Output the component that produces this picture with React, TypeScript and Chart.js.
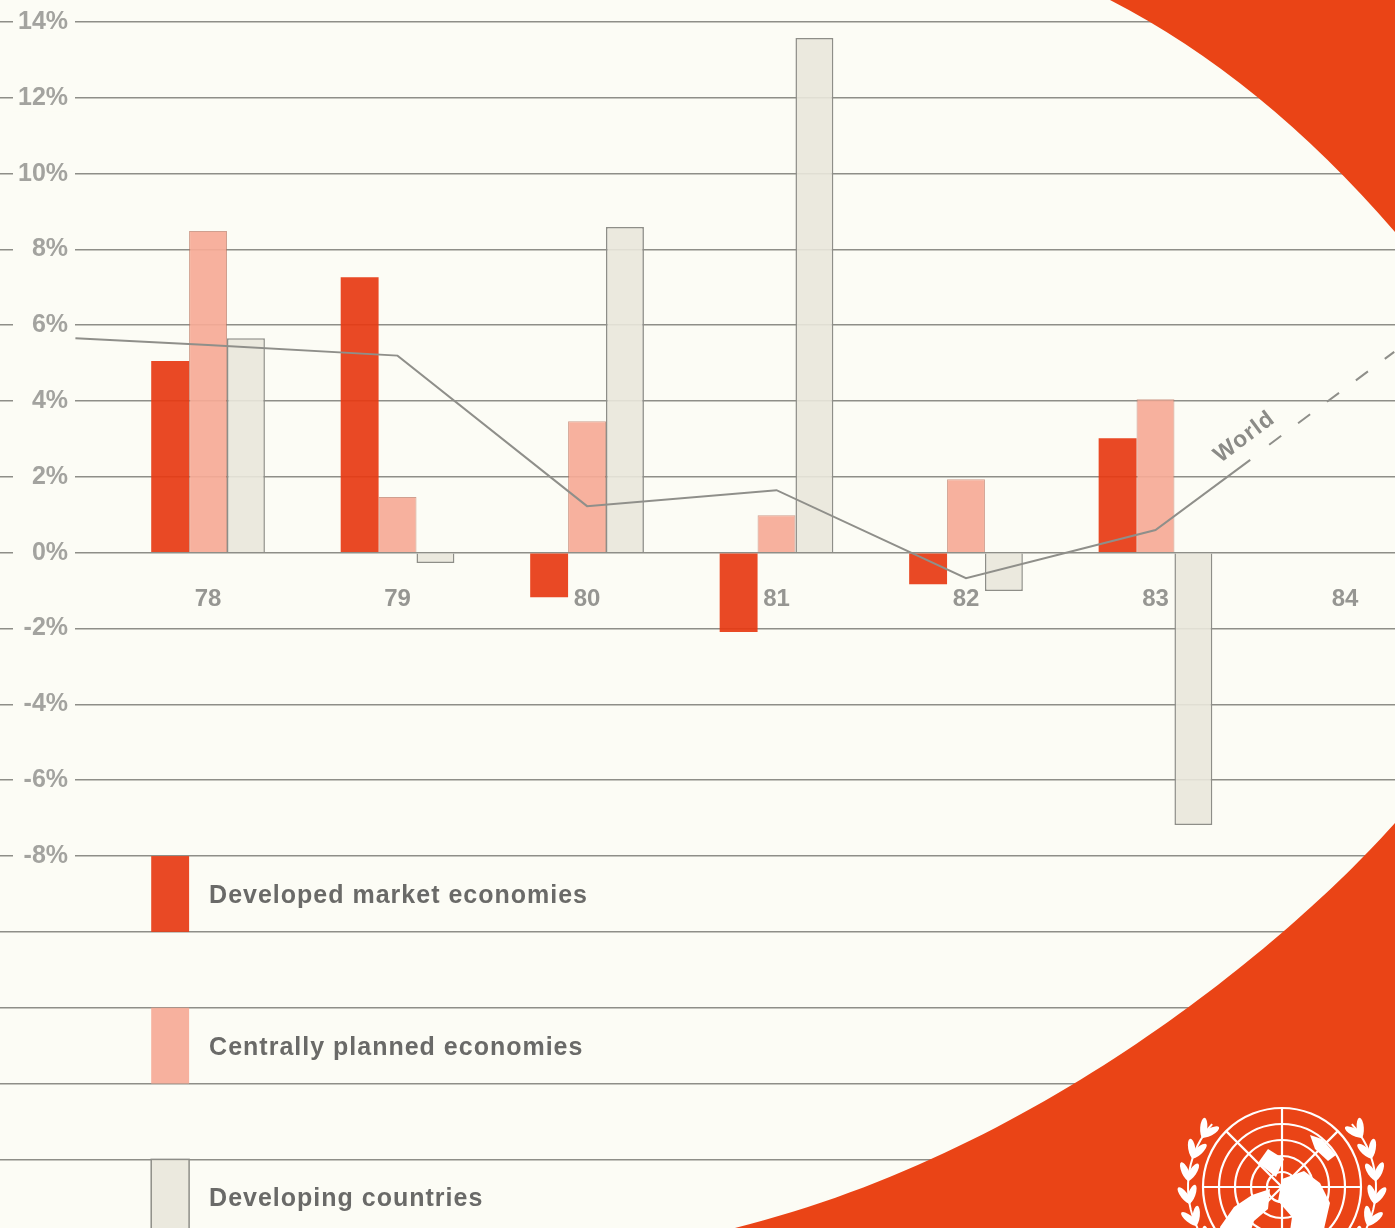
import React, { useEffect, useRef } from 'react';
import { Chart, registerables } from 'chart.js';

Chart.register(...registerables);

// ---- data ----
const YEARS = [78, 79, 80, 81, 82, 83, 84];
const YEAR_LABELS = ['78', '79', '80', '81', '82', '83', '84'];
const BAR_YEARS = [78, 79, 80, 81, 82, 83];
const DEVELOPED = [5.06, 7.27, -1.17, -2.09, -0.83, 3.02];
const PLANNED = [8.49, 1.47, 3.47, 0.99, 1.94, 4.05];
const DEVELOPING = [5.66, -0.27, 8.59, 13.58, -1.01, -7.18];
const WORLD_X = [77.3, 78, 79, 80, 81, 82, 83, 83.5];
const WORLD = [5.66, 5.48, 5.2, 1.23, 1.65, -0.67, 0.6, 2.45];
const WORLD_PROJ_X = [83.6, 84.26];
const WORLD_PROJ = [2.85, 5.3];
const SERIES_NAMES = ['Developed market economies', 'Centrally planned economies', 'Developing countries'];
const WORLD_NAME = 'World';

// ---- styling ----
const CREAM = '#fcfcf5';
const RED = '#ea4416';
const GRID = '#8e8e88';
const TEXT_GRAY = '#a3a39f';
const LEGEND_GRAY = '#6a6a68';
const COL_DEV = 'rgba(231,58,18,0.92)';
const COL_PLAN = 'rgba(246,170,150,0.92)';
const COL_DEVING = 'rgba(233,231,220,0.9)';
const FONT = "'Liberation Sans', Arial, Helvetica, sans-serif";

const pts = (xs: number[], ys: number[]) => ys.map((y, i) => ({ x: xs[i], y }));

const decorPlugin = {
  id: 'decor',
  beforeDraw(chart: any) {
    const { ctx, width, height } = chart;
    ctx.save();
    ctx.fillStyle = CREAM;
    ctx.fillRect(0, 0, width, height);
    ctx.restore();
  },
  beforeDatasetsDraw(chart: any) {
    const { ctx } = chart;
    const ys = chart.scales.y;
    ctx.save();
    ctx.fillStyle = CREAM;
    ys.ticks.forEach((t: any) => {
      if (t.value >= -8) {
        const py = ys.getPixelForValue(t.value);
        ctx.fillRect(13, py - 14, 62, 28);
      }
    });
    ctx.restore();
  },
  afterDraw(chart: any) {
    const { ctx, width: W, height: H } = chart;
    const xs = chart.scales.x;
    const ys = chart.scales.y;

    // "World" label along the line
    ctx.save();
    ctx.translate(xs.getPixelForValue(83.47), ys.getPixelForValue(3.05));
    ctx.rotate((-37 * Math.PI) / 180);
    ctx.font = `bold 23px ${FONT}`;
    ctx.fillStyle = '#8b8b87';
    ctx.textAlign = 'center';
    ctx.textBaseline = 'middle';
    (ctx as any).letterSpacing = '1px';
    ctx.fillText(WORLD_NAME, 0, 0);
    ctx.restore();

    // legend rows
    const colors = [COL_DEV, COL_PLAN, COL_DEVING];
    ctx.save();
    SERIES_NAMES.forEach((name, k) => {
      const bar: any = chart.getDatasetMeta(2).data[0];
      const bw = bar.width;
      const left = bar.x - bw / 2;
      const topV = -8 - 4 * k;
      const yTop = ys.getPixelForValue(topV);
      const yBot = Math.min(ys.getPixelForValue(topV - 2), H + 2);
      ctx.fillStyle = colors[k];
      ctx.fillRect(left, yTop, bw, yBot - yTop);
      if (k === 2) {
        ctx.strokeStyle = GRID;
        ctx.lineWidth = 1.5;
        ctx.strokeRect(left, yTop, bw, yBot - yTop + 10);
      }
      ctx.font = `bold 25px ${FONT}`;
      (ctx as any).letterSpacing = '1px';
      ctx.fillStyle = LEGEND_GRAY;
      ctx.textAlign = 'left';
      ctx.textBaseline = 'middle';
      ctx.fillText(name, left + bw + 20, (ys.getPixelForValue(topV) + ys.getPixelForValue(topV - 2)) / 2 + 2);
    });
    ctx.restore();

    // red corner shapes
    ctx.save();
    ctx.fillStyle = RED;
    ctx.beginPath();
    ctx.moveTo(1110, 0);
    ctx.quadraticCurveTo(1262, 78, W, 232);
    ctx.lineTo(W, 0);
    ctx.closePath();
    ctx.fill();
    ctx.beginPath();
    ctx.moveTo(W, 823);
    ctx.bezierCurveTo(1300, 930, 1050, 1150, 735, H);
    ctx.lineTo(W, H);
    ctx.closePath();
    ctx.fill();
    ctx.restore();

    // UN emblem (simplified)
    const cx = 1282;
    const cy = 1187;
    ctx.save();
    ctx.strokeStyle = '#ffffff';
    ctx.fillStyle = '#ffffff';
    ctx.lineWidth = 2.2;
    [79, 63, 47, 31, 15].forEach((r) => {
      ctx.beginPath();
      ctx.arc(cx, cy, r, 0, Math.PI * 2);
      ctx.stroke();
    });
    for (let a = 0; a < 8; a++) {
      const ang = (a * Math.PI) / 4;
      ctx.beginPath();
      ctx.moveTo(cx, cy);
      ctx.lineTo(cx + Math.cos(ang) * 79, cy + Math.sin(ang) * 79);
      ctx.stroke();
    }
    const blob = (p: number[][]) => {
      ctx.beginPath();
      ctx.moveTo(cx + p[0][0], cy + p[0][1]);
      for (let i = 1; i < p.length; i++) ctx.lineTo(cx + p[i][0], cy + p[i][1]);
      ctx.closePath();
      ctx.fill();
    };
    blob([[-62, 40], [-48, 20], [-30, 8], [-12, 2], [-14, 22], [-28, 34], [-36, 58], [-58, 62]]);
    blob([[0, -8], [22, -16], [38, -4], [48, 16], [42, 42], [26, 62], [6, 58], [10, 30], [-4, 14]]);
    blob([[-6, -10], [-24, -24], [-14, -38], [2, -28]]);
    blob([[28, -52], [40, -48], [54, -32], [46, -26], [33, -38]]);
    // wreath
    const R = 94;
    for (const side of [-1, 1]) {
      ctx.lineWidth = 2;
      ctx.beginPath();
      for (let d = 110; d <= 222; d += 4) {
        const th = (d * Math.PI) / 180;
        const sx = side === -1 ? cx + R * Math.cos(th) : cx - R * Math.cos(th);
        const sy = cy + R * Math.sin(th);
        if (d === 110) ctx.moveTo(sx, sy);
        else ctx.lineTo(sx, sy);
      }
      ctx.stroke();
      for (let d = 115; d <= 215; d += 14) {
        const th = (d * Math.PI) / 180;
        const sx = side === -1 ? cx + R * Math.cos(th) : cx - R * Math.cos(th);
        const sy = cy + R * Math.sin(th);
        const tx = side === -1 ? -Math.sin(th) : Math.sin(th);
        const ty = Math.cos(th);
        const phi = Math.atan2(ty, tx);
        for (const off of [-0.5, 0.5]) {
          ctx.save();
          ctx.translate(sx, sy);
          ctx.rotate(phi + off);
          ctx.beginPath();
          ctx.ellipse(8, 0, 10, 3.6, 0, 0, Math.PI * 2);
          ctx.fill();
          ctx.restore();
        }
      }
    }
    ctx.restore();
  },
};

export default function App() {
  const ref = useRef<HTMLCanvasElement>(null);

  useEffect(() => {
    const canvas = ref.current;
    if (!canvas) return;
    const chart = new Chart(canvas, {
      type: 'bar',
      data: {
        datasets: [
          {
            type: 'line',
            label: WORLD_NAME,
            data: pts(WORLD_X, WORLD),
            borderColor: '#8f8f8a',
            borderWidth: 2,
            pointRadius: 0,
            tension: 0,
            order: 0,
          } as any,
          {
            type: 'line',
            label: WORLD_NAME + ' (projection)',
            data: pts(WORLD_PROJ_X, WORLD_PROJ),
            borderColor: '#8f8f8a',
            borderWidth: 2,
            borderDash: [15, 21],
            pointRadius: 0,
            tension: 0,
            order: 0,
          } as any,
          {
            label: SERIES_NAMES[0],
            data: pts(BAR_YEARS, DEVELOPED),
            backgroundColor: COL_DEV,
            borderWidth: 0,
            order: 1,
          },
          {
            label: SERIES_NAMES[1],
            data: pts(BAR_YEARS, PLANNED),
            backgroundColor: COL_PLAN,
            borderColor: 'rgba(190,120,100,0.7)',
            borderWidth: 1,
            order: 1,
          },
          {
            label: SERIES_NAMES[2],
            data: pts(BAR_YEARS, DEVELOPING),
            backgroundColor: COL_DEVING,
            borderColor: GRID,
            borderWidth: 1.5,
            order: 1,
          },
        ],
      },
      options: {
        animation: false,
        responsive: true,
        maintainAspectRatio: false,
        layout: { padding: 0 },
        datasets: { bar: { categoryPercentage: 0.6, barPercentage: 1.0 } },
        plugins: { legend: { display: false }, tooltip: { enabled: false } },
        scales: {
          x: {
            type: 'linear',
            min: 76.902,
            max: 84.264,
            offset: false,
            position: { y: 0 } as any,
            grid: { display: false, drawTicks: false, offset: false },
            border: { display: false },
            afterFit: (s: any) => {
              s.paddingLeft = 0;
              s.paddingRight = 0;
              s.paddingTop = 0;
              s.paddingBottom = 0;
            },
            ticks: {
              stepSize: 1,
              includeBounds: false,
              autoSkip: false,
              maxRotation: 0,
              padding: 32,
              color: '#969692',
              font: { family: FONT, size: 24, weight: 'bold' },
              callback: (v: any) => {
                const i = YEARS.indexOf(Number(v));
                return i >= 0 ? YEAR_LABELS[i] : '';
              },
            },
          } as any,
          y: {
            type: 'linear',
            position: 'left',
            min: -17.81,
            max: 14.58,
            grid: { color: GRID, lineWidth: 1.6, drawTicks: false },
            border: { display: false },
            afterFit: (s: any) => {
              s.width = 0;
              s.paddingTop = 0;
              s.paddingBottom = 0;
            },
            ticks: {
              stepSize: 2,
              includeBounds: false,
              mirror: true,
              crossAlign: 'far',
              padding: 18,
              z: 1,
              color: TEXT_GRAY,
              font: { family: FONT, size: 25, weight: 'bold' },
              callback: (v: any) => (Number(v) >= -8 ? `${v}%` : ''),
            },
          } as any,
        },
      },
      plugins: [decorPlugin],
    } as any);
    return () => chart.destroy();
  }, []);

  return (
    <div style={{ position: 'fixed', left: 0, top: 0, width: 1395, height: 1228, background: CREAM }}>
      <canvas ref={ref} />
    </div>
  );
}
